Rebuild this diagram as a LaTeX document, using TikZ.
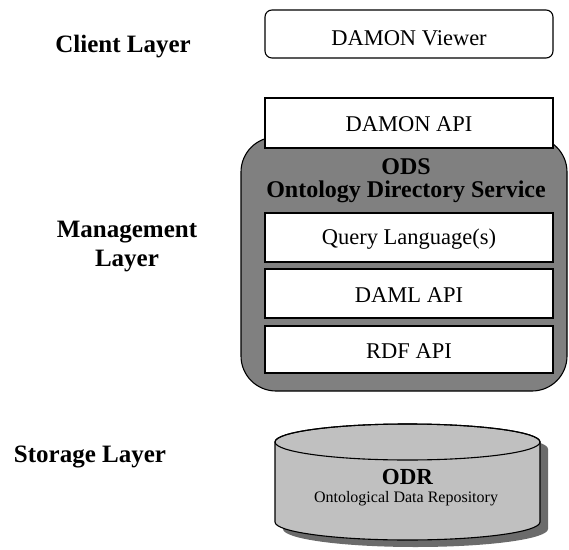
\documentclass[tikz,border=0pt]{standalone}
\usepackage{fontspec}
\setmainfont{Liberation Serif}
\definecolor{odsgray}{HTML}{808080}
\definecolor{cylgray}{HTML}{C0C0C0}
\definecolor{cylshadow}{HTML}{6B6B6B}
\begin{document}
\begin{tikzpicture}[x=1pt,y=1pt,
  layerlabel/.style={font=\fontsize{25}{29}\selectfont\bfseries, align=center, inner sep=0pt},
  boxtext/.style={font=\fontsize{22.5}{27}\selectfont, inner sep=0pt, anchor=base},
  odstext/.style={font=\fontsize{24}{28}\selectfont\bfseries, inner sep=0pt, anchor=base},
  whitebox/.style={draw=black, line width=1.1pt, fill=white, minimum width=288pt, inner sep=0pt},
]
\useasboundingbox (0,0) rectangle (569,549);

% Layer labels
\node[layerlabel, anchor=base] (client) at (123,496) {Client Layer};
\node[layerlabel] (mgmt) at (127,302) {Management\\Layer};
\node[layerlabel, anchor=base] (storage) at (90,87) {Storage Layer};

% Client layer
\node[whitebox, rounded corners=7pt, minimum height=48pt] (viewer) at (409,515) {};
\node[boxtext] (viewertext) at (409,503) {DAMON Viewer};

% ODS
\node[draw=black, line width=1.1pt, fill=odsgray, rounded corners=35pt,
      minimum width=326pt, minimum height=254pt, inner sep=0pt] (ods) at (404,285) {};
\node[whitebox, minimum height=50pt] (api) at (409,426) {};
\node[boxtext] (apitext) at (409,417) {DAMON API};
\node[odstext] (odsname) at (406,374) {ODS};
\node[odstext] (odsfull) at (406,351) {Ontology Directory Service};

\node[whitebox, minimum height=49pt] (ql) at (409,311.5) {};
\node[boxtext] (qltext) at (409,304) {Query Language(s)};
\node[whitebox, minimum height=49pt] (daml) at (409,255.5) {};
\node[boxtext] (damltext) at (409,247) {DAML API};
\node[whitebox, minimum height=47pt] (rdf) at (409,199.5) {};
\node[boxtext] (rdftext) at (409,191) {RDF API};

% ODR cylinder
\fill[cylshadow] (283,100) -- (283,20)
  arc[start angle=180, end angle=360, x radius=132.5pt, y radius=18pt]
  -- (548,100)
  arc[start angle=0, end angle=180, x radius=132.5pt, y radius=18pt] -- cycle;
\filldraw[fill=cylgray, draw=black, line width=1.1pt] (275,107) -- (275,27)
  arc[start angle=180, end angle=360, x radius=132.5pt, y radius=18pt]
  -- (540,107)
  arc[start angle=0, end angle=180, x radius=132.5pt, y radius=18pt] -- cycle;
\draw[line width=1.1pt] (407.5,107) ellipse [x radius=132.5pt, y radius=18pt];
\node[font=\fontsize{23}{27}\selectfont\bfseries, inner sep=0pt, anchor=base] (odr) at (407.5,65) {ODR};
\node[font=\fontsize{16}{19}\selectfont, inner sep=0pt, anchor=base] (odrfull) at (406,47) {Ontological Data Repository};
\end{tikzpicture}
\end{document}
